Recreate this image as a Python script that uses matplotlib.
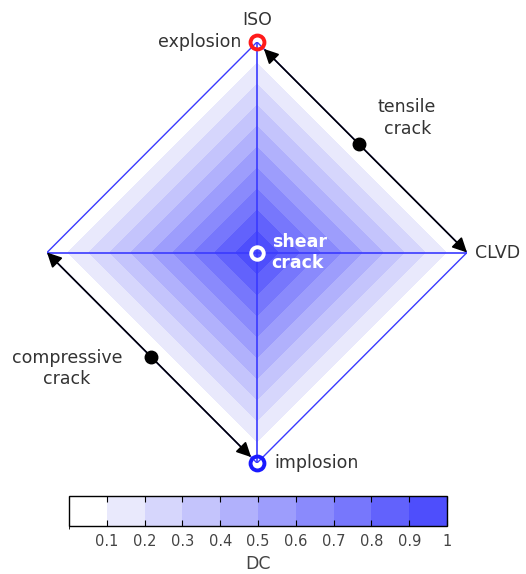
import numpy as np
import matplotlib
matplotlib.use("Agg")
import matplotlib.pyplot as plt
from matplotlib.colors import ListedColormap, BoundaryNorm
from matplotlib.patches import FancyArrowPatch

plt.rcParams['font.family'] = ['DejaVu Sans']

# DC contour levels and band colours (white -> blue)
dc_levels = [0, 0.1, 0.2, 0.3, 0.4, 0.5, 0.6, 0.7, 0.8, 0.9, 1.0]
band_colors = ['#ffffff', '#e9e9fc', '#d6d6fc', '#c4c4fc', '#b1b1fc',
               '#9d9dfc', '#8a8afc', '#7777fc', '#6262fc', '#4e4efc']
cbar_ticks = [0.1, 0.2, 0.3, 0.4, 0.5, 0.6, 0.7, 0.8, 0.9, 1.0]
cbar_ticklabels = ['0.1', '0.2', '0.3', '0.4', '0.5', '0.6', '0.7', '0.8', '0.9', '1']

# corners of the source-type diamond
iso = (0.0, 1.0)
clvd = (1.0, 0.0)
implo = (0.0, -1.0)
neg_clvd = (-1.0, 0.0)
shear = (0.0, 0.0)
tensile_dot = (0.485, 0.515)
compressive_dot = (-0.505, -0.495)

fig = plt.figure(figsize=(5.26, 5.74), dpi=100)
ax = fig.add_axes([47 / 526, 111 / 574, 420 / 526, 421 / 574])
ax.set_xlim(-1, 1)
ax.set_ylim(-1, 1)
ax.axis('off')

cmap = ListedColormap(band_colors)
norm = BoundaryNorm(dc_levels, cmap.N)

g = np.linspace(-1, 1, 801)
X, Y = np.meshgrid(g, g)
DC = 1 - np.abs(X) - np.abs(Y)
DC = np.where(DC < 0, np.nan, DC)
cf = ax.contourf(X, Y, DC, levels=dc_levels, cmap=cmap, norm=norm)

blue = '#3a3aff'
ax.plot([iso[0], clvd[0], implo[0], neg_clvd[0], iso[0]],
        [iso[1], clvd[1], implo[1], neg_clvd[1], iso[1]], color=blue, lw=1)
ax.plot([iso[0], implo[0]], [iso[1], implo[1]], color=blue, lw=1.2)
ax.plot([neg_clvd[0], clvd[0]], [neg_clvd[1], clvd[1]], color=blue, lw=1.2)


def arrow(p0, p1, shrink):
    a = FancyArrowPatch(p0, p1, arrowstyle='-|>', mutation_scale=22,
                        color='black', lw=1.2, shrinkA=0, shrinkB=shrink,
                        clip_on=False, zorder=5)
    ax.add_patch(a)


arrow(tensile_dot, iso, 7)
arrow(tensile_dot, clvd, 0)
arrow(compressive_dot, neg_clvd, 0)
arrow(compressive_dot, implo, 6)

ax.plot(*tensile_dot, 'o', color='black', ms=9, zorder=6, clip_on=False)
ax.plot(*compressive_dot, 'o', color='black', ms=9, zorder=6, clip_on=False)

ax.plot(*iso, 'o', mfc='none', mec='#ff1a1a', mew=2.8, ms=10, zorder=7, clip_on=False)
ax.plot(*shear, 'o', mfc='none', mec='white', mew=2.8, ms=9, zorder=7, clip_on=False)
ax.plot(*implo, 'o', mfc='none', mec='#1a1aff', mew=2.8, ms=10, zorder=7, clip_on=False)

txt = dict(color='#333333', fontsize=12.5)
ax.text(0.0, 1.105, 'ISO', ha='center', va='center', **txt)
ax.text(-0.075, 1.0, 'explosion', ha='right', va='center', **txt)
ax.text(0.715, 0.64, 'tensile\ncrack', ha='center', va='center', linespacing=1.25, **txt)
ax.text(1.04, 0.0, 'CLVD', ha='left', va='center', **txt)
ax.text(-0.905, -0.55, 'compressive\ncrack', ha='center', va='center', linespacing=1.25, **txt)
ax.text(0.085, -1.0, 'implosion', ha='left', va='center', **txt)
ax.text(0.07, 0.0, 'shear\ncrack', ha='left', va='center', color='white',
        fontsize=12.5, fontweight='bold', linespacing=1.25)

# horizontal colorbar
cax = fig.add_axes([69 / 526, 48 / 574, 378 / 526, 30 / 574])
cb = fig.colorbar(cf, cax=cax, orientation='horizontal')
cb.set_ticks(cbar_ticks)
cb.set_ticklabels(cbar_ticklabels)
cb.outline.set_linewidth(1.0)
cax.tick_params(axis='x', direction='in', length=4, width=0.8, top=True,
                colors='black', labelcolor='#444444', labelsize=10.5, pad=6)
cb.set_label('DC', fontsize=12.5, color='#444444', labelpad=4)

fig.savefig('out.png', dpi=100)
